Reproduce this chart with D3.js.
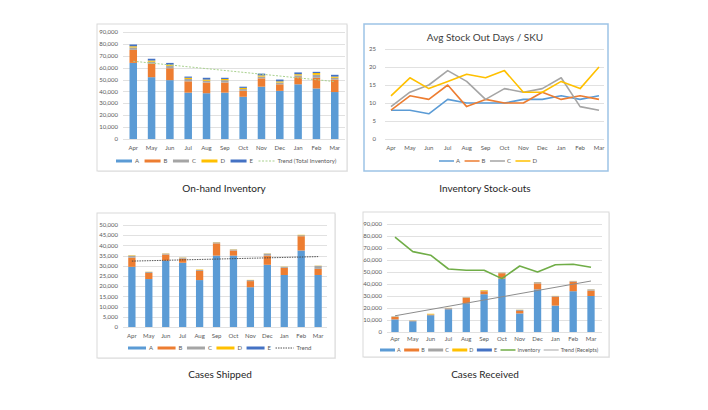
<!DOCTYPE html>
<html><head><meta charset="utf-8">
<script src="https://cdn.jsdelivr.net/npm/d3@7"></script>
<style>
html,body{margin:0;padding:0;background:#fff;}
svg{display:block;font-family:Lato,"Open Sans",sans-serif;}
</style></head><body>
<svg id="c" width="708" height="410"></svg>
<script>
const months = ["Apr","May","Jun","Jul","Aug","Sep","Oct","Nov","Dec","Jan","Feb","Mar"];
const seriesKeys = ["A","B","C","D","E"];
const colors = {A:"#5B9BD5",B:"#ED7D31",C:"#A5A5A5",D:"#FFC000",E:"#4472C4"};

// On-hand inventory by SKU group
const invA = [64000,52000,49500,39000,38500,39000,35500,44000,40500,46000,42500,39500];
const invB = [11000,11500,10000,9500,9000,8500,5000,7000,5500,6000,9000,10500];
const invC = [2000,1500,2000,2000,1500,2000,1500,1500,1500,1500,2500,1500];
const invD = [1000,1000,1000,1000,1000,1000,1000,1000,1000,1000,1500,1000];
const invE = [1500,1500,1500,1000,1500,1000,1000,1500,1500,1500,1000,1500];
const invTrend = [65400,48300]; // Apr, Mar

// Avg stock out days / SKU
const soA = [8,8,7,11,10,10,10,11,11,12,11,12];
const soB = [8,12,11,15,9,11,10,10,13,11,12,11];
const soC = [9,13,15,19,16,11,14,13,14,17,9,8];
const soD = [12,17,14,16,18,17,19,13,13,16,14,20];

// Cases shipped
const shipA = [29500,23500,32500,31500,23000,35000,35000,19500,30500,25500,37500,25500];
const shipB = [4500,3000,3000,2000,4500,6000,2500,3000,4500,3500,7000,3000];
const shipC = [1000,500,500,500,500,500,500,500,1000,500,500,1500];
const shipD = [200,100,100,100,200,100,100,100,100,100,200,100];
const shipE = [0,0,0,0,0,0,0,0,0,0,0,0];
const shipTrend = [32300,34500];

// Cases received
const recA = [10500,9000,14000,19000,24000,31500,44500,15500,35500,22000,34000,30000];
const recB = [2000,300,500,500,4500,2500,4500,2000,5000,7500,8000,4500];
const recC = [500,200,200,500,500,500,500,1000,1000,500,500,1000];
const recD = [100,100,500,100,100,500,100,100,100,100,100,100];
const recE = [0,0,0,0,0,0,0,0,0,0,0,0];
const recInventory = [79000,67000,64000,52500,51500,51500,44500,55000,50000,56000,56500,54000];
const recTrend = [13500,42500];

const svg = d3.select("#c");
const fmt = d3.format(",");
const gridCol = "#D9D9D9", tickCol = "#595959";

function frame(x0,y0,x1,y1,stroke,sw){
  if(!stroke){
    svg.append("rect").attr("x",x0+1).attr("y",y0+1).attr("width",x1-x0).attr("height",y1-y0)
      .attr("fill","#eeeeee");
  }
  svg.append("rect").attr("x",x0).attr("y",y0).attr("width",x1-x0).attr("height",y1-y0)
    .attr("fill","#fff").attr("stroke",stroke||"#D9D9D9").attr("stroke-width",sw||1);
}

function axesY(y, ticks, gx0, gx1, lx, fmtf){
  const g = svg.append("g");
  g.selectAll("line").data(ticks).join("line")
    .attr("x1",gx0).attr("x2",gx1).attr("y1",d=>Math.round(y(d))+0.5).attr("y2",d=>Math.round(y(d))+0.5)
    .attr("stroke",gridCol).attr("stroke-width",0.8);
  g.selectAll("text").data(ticks).join("text")
    .attr("x",lx).attr("y",d=>y(d)).attr("dy","0.35em").attr("text-anchor","end")
    .attr("font-size",6).attr("fill",tickCol).text(fmtf);
}
function axisX(x, ty, bw){
  svg.append("g").selectAll("text").data(months).join("text")
    .attr("x",d=>x(d)+(bw||0)/2).attr("y",ty).attr("dy","0.35em").attr("text-anchor","middle")
    .attr("font-size",6).attr("fill",tickCol).text(d=>d);
}

function legend(items, x0, ly, sw, gap1, gap2, fs){
  const g = svg.append("g").attr("transform",`translate(${x0},0)`);
  let xpos = 0;
  items.forEach(it=>{
    const gi = g.append("g").attr("transform",`translate(${xpos},0)`);
    if(it.type==="bar"){
      gi.append("rect").attr("x",0).attr("y",ly-1.5).attr("width",sw).attr("height",3).attr("fill",it.color);
    } else {
      gi.append("line").attr("x1",0).attr("x2",sw).attr("y1",ly).attr("y2",ly)
        .attr("stroke",it.color).attr("stroke-width",it.w||1.5).attr("stroke-dasharray",it.dash||null);
    }
    const t = gi.append("text").attr("x",sw+gap1).attr("y",ly).attr("dy","0.35em")
      .attr("font-size",fs||6).attr("fill",tickCol).text(it.label);
    xpos += sw+gap1+t.node().getComputedTextLength()+gap2;
  });
}

function stackBars(x, y, cols){
  const rows = months.map((m,i)=>{const r={m}; seriesKeys.forEach((k,j)=>r[k]=cols[j][i]); return r;});
  const st = d3.stack().keys(seriesKeys)(rows);
  svg.append("g").selectAll("g").data(st).join("g").attr("fill",d=>colors[d.key])
    .selectAll("rect").data(d=>d).join("rect")
    .attr("x",d=>x(d.data.m)).attr("width",x.bandwidth())
    .attr("y",d=>y(d[1])).attr("height",d=>Math.max(0,y(d[0])-y(d[1])));
}

function caption(txt, cx, cy){
  svg.append("text").attr("x",cx).attr("y",cy).attr("dy","0.35em").attr("text-anchor","middle")
    .attr("font-size",10).attr("fill","#262626").text(txt);
}

const barLegend = seriesKeys.map(k=>({type:"bar",label:k,color:colors[k]}));

// ---------- Panel 1: On-hand Inventory ----------
frame(97,24,347,171);
{
  const x = d3.scaleBand().domain(months).range([124,344]).paddingInner(0.59).paddingOuter(0.3);
  const y = d3.scaleLinear().domain([0,90000]).range([139,32]);
  axesY(y, d3.range(0,90001,10000), 123, 345, 118, d=>fmt(d));
  stackBars(x,y,[invA,invB,invC,invD,invE]);
  const xc = d=>x(d)+x.bandwidth()/2;
  svg.append("line").attr("x1",xc("Apr")).attr("x2",xc("Mar"))
    .attr("y1",y(invTrend[0])).attr("y2",y(invTrend[1]))
    .attr("stroke","#A9D18E").attr("stroke-width",1).attr("stroke-dasharray","2,1.5");
  axisX(x,148,x.bandwidth());
  legend([...barLegend,{type:"line",label:"Trend (Total Inventory)",color:"#A9D18E",w:1,dash:"2,1.5"}],116,161,16,3,5.5);
}
caption("On-hand Inventory",224,188);

// ---------- Panel 2: Stock-outs ----------
frame(364,24,608,171,"#9DC3E6",1.5);
{
  const x = d3.scalePoint().domain(months).range([391,599]);
  const y = d3.scaleLinear().domain([0,25]).range([139,49]);
  axesY(y, d3.range(0,26,5), 385, 604, 376, d=>d);
  const line = d3.line().x((d,i)=>x(months[i])).y(d=>y(d));
  const ser = [["A",soA,"#5B9BD5"],["B",soB,"#ED7D31"],["C",soC,"#A5A5A5"],["D",soD,"#FFC000"]];
  ser.forEach(s=>{
    svg.append("path").datum(s[1]).attr("d",line).attr("fill","none").attr("stroke",s[2])
      .attr("stroke-width",1.6).attr("stroke-linejoin","round");
  });
  axisX(x,148,0);
  svg.append("text").attr("x",485).attr("y",37).attr("dy","0.35em").attr("text-anchor","middle")
    .attr("font-size",10).attr("fill","#404040").text("Avg Stock Out Days / SKU");
  legend(ser.map(s=>({type:"line",label:s[0],color:s[2],w:1.5})),439,161,15,2,4.5);
}
caption("Inventory Stock-outs",485,188);

// ---------- Panel 3: Cases Shipped ----------
frame(97,213,335,358);
{
  const x = d3.scaleBand().domain(months).range([123.5,326.5]).paddingInner(0.57).paddingOuter(0.28);
  const y = d3.scaleLinear().domain([0,50000]).range([327,225]);
  axesY(y, d3.range(0,50001,5000), 123, 327, 118, d=>fmt(d));
  stackBars(x,y,[shipA,shipB,shipC,shipD,shipE]);
  const xc = d=>x(d)+x.bandwidth()/2;
  svg.append("line").attr("x1",xc("Apr")).attr("x2",xc("Mar"))
    .attr("y1",y(shipTrend[0])).attr("y2",y(shipTrend[1]))
    .attr("stroke","#404040").attr("stroke-width",0.9).attr("stroke-dasharray","1.5,1");
  axisX(x,336,x.bandwidth());
  legend([...barLegend,{type:"line",label:"Trend",color:"#404040",w:0.9,dash:"1.5,1"}],128,348,18,3,4.5);
}
caption("Cases Shipped",220,374);

// ---------- Panel 4: Cases Received ----------
frame(363,212,609,357);
{
  const x = d3.scaleBand().domain(months).range([386,600]).paddingInner(0.59).paddingOuter(0.3);
  const y = d3.scaleLinear().domain([0,90000]).range([332,224]);
  axesY(y, d3.range(0,90001,10000), 387, 602, 382, d=>fmt(d));
  stackBars(x,y,[recA,recB,recC,recD,recE]);
  const xc = d=>x(d)+x.bandwidth()/2;
  svg.append("path").datum(recInventory)
    .attr("d",d3.line().x((d,i)=>xc(months[i])).y(d=>y(d)))
    .attr("fill","none").attr("stroke","#70AD47").attr("stroke-width",1.6).attr("stroke-linejoin","round");
  svg.append("line").attr("x1",xc("Apr")).attr("x2",xc("Mar"))
    .attr("y1",y(recTrend[0])).attr("y2",y(recTrend[1]))
    .attr("stroke","#8C8C8C").attr("stroke-width",1);
  axisX(x,339,x.bandwidth());
  legend([...barLegend,{type:"line",label:"Inventory",color:"#70AD47",w:1.5},
          {type:"line",label:"Trend (Receipts)",color:"#A5A5A5",w:1}],380,350,15,2,3.5,5.4);
}
caption("Cases Received",485,374);
</script>
</body></html>
